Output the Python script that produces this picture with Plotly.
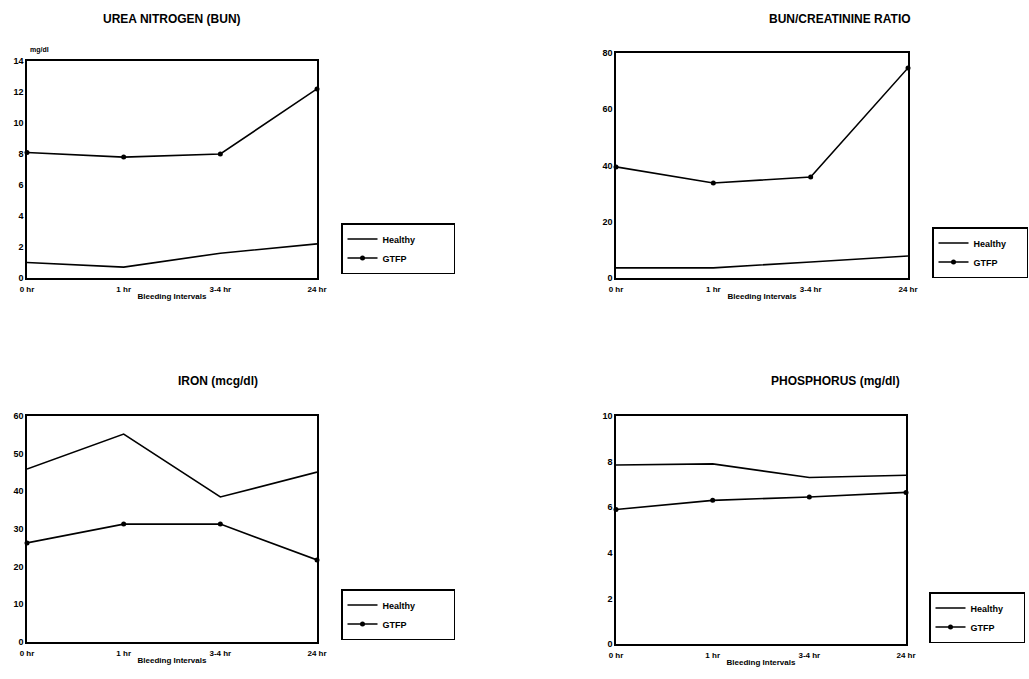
import plotly.graph_objects as go

intervals = ["0 hr", "1 hr", "3-4 hr", "24 hr"]
xpos = [0, 1, 2, 3]

bun_healthy = [1.0, 0.7, 1.6, 2.2]
bun_gtfp = [8.1, 7.8, 8.0, 12.2]
ratio_healthy = [3.6, 3.6, 5.7, 7.8]
ratio_gtfp = [39.5, 33.8, 35.9, 74.7]
iron_healthy = [45.9, 55.2, 38.5, 45.1]
iron_gtfp = [26.3, 31.3, 31.3, 21.8]
phos_healthy = [7.85, 7.9, 7.3, 7.4]
phos_gtfp = [5.9, 6.3, 6.45, 6.65]

titles = ["UREA NITROGEN (BUN)", "BUN/CREATININE RATIO", "IRON (mcg/dl)", "PHOSPHORUS (mg/dl)"]
yranges = [(0, 14, 2), (0, 80, 20), (0, 60, 10), (0, 10, 2)]

W, H = 1029, 679
def px(x): return x / W
def py(y): return 1 - y / H

# panel boxes in pixels: left, right, top, bottom
boxes = [(27, 317, 61, 278), (616, 908, 53, 278), (27, 317, 416, 642), (616, 906, 416, 644)]
title_pos = [(172, 19), (840, 19), (218, 381), (835, 381)]
legend_pos = [(341, 223), (932, 227), (341, 589), (929, 592)]
legend_pad = [13, 6, 13, 6]

FONT = "Liberation Sans"
fig = go.Figure()
series = [(bun_healthy, bun_gtfp), (ratio_healthy, ratio_gtfp), (iron_healthy, iron_gtfp), (phos_healthy, phos_gtfp)]

layout = dict(
    width=W, height=H, margin=dict(l=0, r=0, t=0, b=0),
    paper_bgcolor="white", plot_bgcolor="white",
    font=dict(family=FONT, color="black"),
)
annotations = []
for i, (h, g) in enumerate(series):
    n = i + 1
    xa = "x" if n == 1 else f"x{n}"
    ya = "y" if n == 1 else f"y{n}"
    lg = "legend" if n == 1 else f"legend{n}"
    pad = "\u00a0" * legend_pad[i]
    fig.add_trace(go.Scatter(x=xpos, y=h, mode="lines", name="Healthy" + pad,
                             line=dict(color="black", width=1.6), xaxis=xa, yaxis=ya,
                             legend=lg, cliponaxis=False))
    fig.add_trace(go.Scatter(x=xpos, y=g, mode="lines+markers", name="GTFP",
                             line=dict(color="black", width=1.6), marker=dict(size=5, color="black"),
                             xaxis=xa, yaxis=ya, legend=lg, cliponaxis=False))
    l, r, t, b = boxes[i]
    lo, hi, st = yranges[i]
    xk = "xaxis" if n == 1 else f"xaxis{n}"
    yk = "yaxis" if n == 1 else f"yaxis{n}"
    layout[xk] = dict(domain=[px(l), px(r)], anchor=ya, range=[0, 3], automargin=False,
                      tickvals=xpos, ticktext=intervals, showgrid=False, zeroline=False,
                      showline=True, linecolor="black", linewidth=1.5, mirror=True, ticks="",
                      ticklabelstandoff=3,
                      tickfont=dict(size=8, family=FONT, weight="bold", color="black"),
                      title=dict(text="<b>Bleeding Intervals</b>", font=dict(size=8, color="black"), standoff=0))
    layout[yk] = dict(domain=[py(b), py(t)], anchor=xa, range=[lo, hi], automargin=False,
                      tickvals=list(range(lo, hi + 1, st)), showgrid=False, zeroline=False,
                      showline=True, linecolor="black", linewidth=1.5, mirror=True, ticks="",
                      tickfont=dict(size=9, family=FONT, weight="bold", color="black"))
    layout[lg] = dict(x=px(legend_pos[i][0]), y=py(legend_pos[i][1]), xanchor="left", yanchor="top",
                      bordercolor="black", borderwidth=1.5, bgcolor="white",
                      font=dict(size=9, weight="bold", color="black"), itemwidth=30, tracegroupgap=2)
    tx, ty = title_pos[i]
    annotations.append(dict(text=f"<b>{titles[i]}</b>", x=px(tx), y=py(ty), xref="paper", yref="paper",
                            showarrow=False, font=dict(size=12, color="black"), xanchor="center", yanchor="middle"))

annotations.append(dict(text="<b>mg/dl</b>", x=px(28), y=py(50), xref="paper", yref="paper",
                        showarrow=False, font=dict(size=7, color="black"), xanchor="left", yanchor="middle"))
layout["annotations"] = annotations
fig.update_layout(**layout)
fig.write_html("out.html", config={"displayModeBar": False},
               post_script="document.body.style.margin='0';document.body.style.overflow='hidden';")
